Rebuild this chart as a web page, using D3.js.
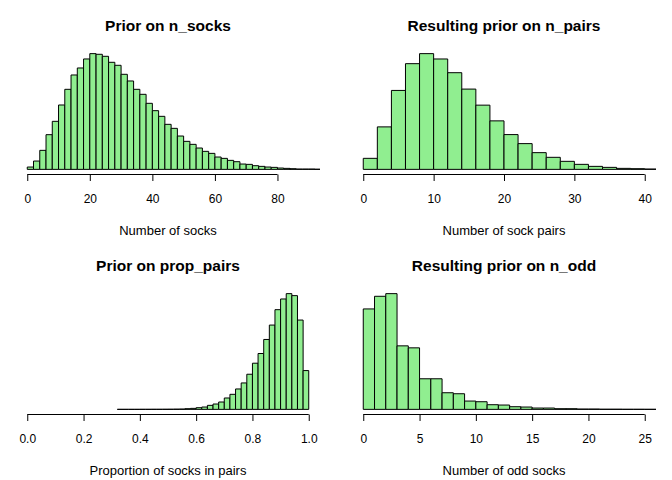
<!DOCTYPE html>
<html>
<head>
<meta charset="utf-8">
<script src="https://cdn.jsdelivr.net/npm/d3@7"></script>
<style>
  html, body { margin: 0; padding: 0; background: #ffffff; }
  svg { display: block; }
  text { font-family: "Liberation Sans", Arial, Helvetica, sans-serif; fill: #000; }
</style>
</head>
<body>
<svg id="chart" width="672" height="480"></svg>
<script>
// ---- Data (histogram counts) ----
// Panel 1: Prior on n_socks, bins of width 2 starting at 0
const sockBinStart = 0, sockBinWidth = 2;
const sockCounts = [70,250,570,1040,1440,1930,2400,2830,3040,3310,3470,3450,3390,3210,3120,2850,2650,2400,2250,1980,1760,1590,1350,1230,1000,840,750,640,540,480,370,330,270,230,160,150,110,90,70,60,40,30,20,10,10,10,5];
const sockTicks = [0,20,40,60,80];
const sockXlim = [0,90];

// Panel 2: Resulting prior on n_pairs, bins of width 2 starting at 0
const pairBinStart = 0, pairBinWidth = 2;
const pairCounts = [330,1270,2360,3160,3460,3300,2890,2400,1920,1450,1040,770,500,360,240,150,90,60,30,20,10];
const pairTicks = [0,10,20,30,40];
const pairXlim = [0,40];

// Panel 3: Prior on prop_pairs, bins of width 0.02 starting at 0.32
const propBinStart = 0.32, propBinWidth = 0.02;
const propCounts = [1,1,1,1,2,2,3,3,4,5,7,10,20,30,50,70,120,160,220,340,450,610,790,1050,1380,1670,2090,2520,2980,3300,3460,3400,2670,1160];
const propTicks = [0,0.2,0.4,0.6,0.8,1.0];
const propXlim = [0,1];

// Panel 4: Resulting prior on n_odd, bins of width 1 starting at 0
const oddBinStart = 0, oddBinWidth = 1;
const oddCounts = [3020,3400,3480,1910,1850,920,920,500,470,250,230,140,130,80,70,40,40,20,20,10,10,5,5,3,3,2];
const oddTicks = [0,5,10,15,20,25];
const oddXlim = [0,25];

const titles = ["Prior on n_socks","Resulting prior on n_pairs","Prior on prop_pairs","Resulting prior on n_odd"];
const xLabels = ["Number of socks","Number of sock pairs","Proportion of socks in pairs","Number of odd socks"];

// ---- Build panels ----
const panels = [
  {start: sockBinStart, width: sockBinWidth, counts: sockCounts, ticks: sockTicks, xlim: sockXlim, fmt: d3.format("d")},
  {start: pairBinStart, width: pairBinWidth, counts: pairCounts, ticks: pairTicks, xlim: pairXlim, fmt: d3.format("d")},
  {start: propBinStart, width: propBinWidth, counts: propCounts, ticks: propTicks, xlim: propXlim, fmt: d3.format(".1f")},
  {start: oddBinStart, width: oddBinWidth, counts: oddCounts, ticks: oddTicks, xlim: oddXlim, fmt: d3.format("d")}
];

const svg = d3.select("#chart");
const ext = 0.04; // R-style 4% axis extension

panels.forEach((p, i) => {
  const col = i % 2, row = Math.floor(i / 2);
  const left = col * 336 + 16, right = col * 336 + 320;
  const top = row * 240 + 49, bottom = row * 240 + 174;

  const span = p.xlim[1] - p.xlim[0];
  const x = d3.scaleLinear()
    .domain([p.xlim[0] - ext * span, p.xlim[1] + ext * span])
    .range([left, right]);
  const maxC = d3.max(p.counts);
  const y = d3.scaleLinear()
    .domain([-ext * maxC, maxC * (1 + ext)])
    .range([bottom, top]);

  const g = svg.append("g");

  const clipId = "clip" + i;
  svg.append("clipPath").attr("id", clipId)
    .append("rect").attr("x", left).attr("y", top - 2)
    .attr("width", right - left).attr("height", bottom - top + 2);

  const bins = p.counts.map((c, k) => ({
    x0: p.start + k * p.width,
    x1: p.start + (k + 1) * p.width,
    c: c
  }));

  g.append("g").attr("clip-path", `url(#${clipId})`)
    .selectAll("path.bar")
    .data(bins)
    .join("path")
    .attr("class", "bar")
    .attr("d", d => {
      const x0 = x(d.x0), x1 = x(d.x1), y0 = y(0), y1 = y(d.c);
      return `M${x0},${y0}H${x1}V${y1}H${x0}Z`;
    })
    .attr("fill", "#90EE90")
    .attr("stroke", "#000")
    .attr("stroke-width", 1);

  // x axis (R style: line spans first..last tick)
  const axis = d3.axisBottom(x)
    .tickValues(p.ticks)
    .tickFormat(p.fmt)
    .tickSize(7)
    .tickPadding(13);
  const ag = g.append("g")
    .attr("transform", `translate(0,${bottom})`)
    .call(axis);
  ag.select(".domain").remove();
  ag.append("line")
    .attr("x1", x(p.ticks[0])).attr("x2", x(p.ticks[p.ticks.length - 1]))
    .attr("y1", 0.5).attr("y2", 0.5)
    .attr("stroke", "#000").attr("stroke-width", 1);
  ag.selectAll(".tick line").attr("stroke", "#000").attr("y1", 0.5);
  ag.selectAll(".tick text")
    .style("font-family", "'Liberation Sans', Arial, Helvetica, sans-serif")
    .style("font-size", "12px")
    .attr("fill", "#000");

  // title
  g.append("text")
    .attr("x", (left + right) / 2)
    .attr("y", row * 240 + 30.5)
    .attr("text-anchor", "middle")
    .style("font-size", "15.5px")
    .style("font-weight", "bold")
    .text(titles[i]);

  // x label
  g.append("text")
    .attr("x", (left + right) / 2)
    .attr("y", row * 240 + 235)
    .attr("text-anchor", "middle")
    .style("font-size", "13px")
    .text(xLabels[i]);
});
</script>
</body>
</html>
